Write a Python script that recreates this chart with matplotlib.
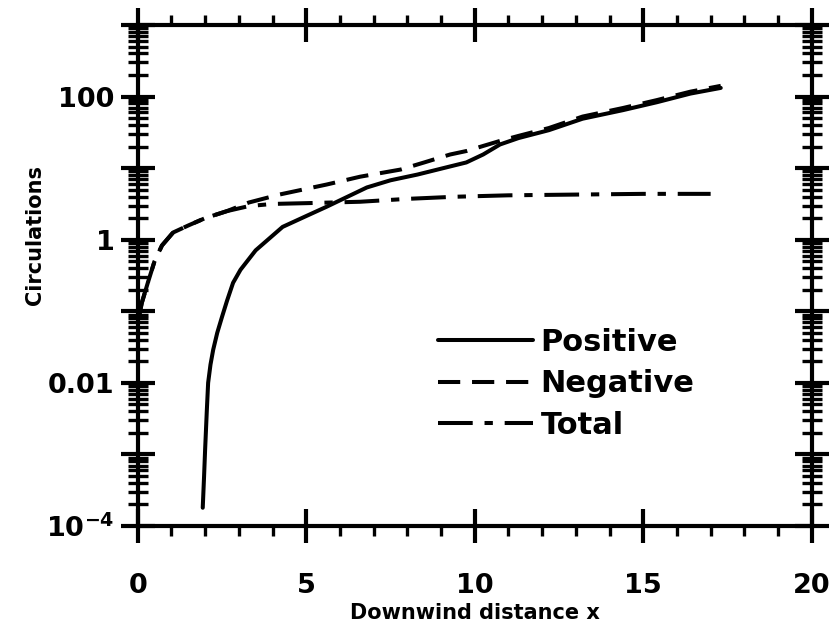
import numpy as np
import matplotlib
matplotlib.use('Agg')
import matplotlib.pyplot as plt
from matplotlib.ticker import FixedLocator, FixedFormatter, MultipleLocator, LogLocator, NullFormatter

plt.rcParams['font.family'] = 'DejaVu Sans'
plt.rcParams['font.weight'] = 'bold'
plt.rcParams['mathtext.default'] = 'bf'
plt.rcParams['lines.scale_dashes'] = False

# values
pos_x = [1.93, 1.97, 2.0, 2.05, 2.09, 2.16, 2.24, 2.36, 2.5, 2.65, 2.83, 3.05, 3.5,
         4.3, 5.0, 5.6, 6.8, 7.5, 8.3, 9.25, 9.75, 10.25, 10.75, 11.3, 12.2, 13.2,
         14.4, 15.4, 16.4, 17.3]
pos_y = [1.8e-4, 5e-4, 1.15e-3, 4e-3, 0.01, 0.018, 0.029, 0.05, 0.083, 0.14, 0.25,
         0.38, 0.71, 1.51, 2.14, 2.88, 5.37, 6.76, 8.13, 10.5, 12.0, 15.5, 21.4,
         26.3, 33.9, 49.0, 64.6, 83.2, 110.0, 132.0]

neg_x = [0.05, 0.12, 0.3, 0.5, 0.72, 1.05, 1.5, 2.0, 2.65, 3.3, 4.2, 5.6, 6.6, 7.8,
         8.5, 9.27, 9.77, 10.25, 10.75, 11.3, 12.2, 13.2, 14.4, 15.4, 16.4, 17.3]
neg_y = [0.089, 0.13, 0.25, 0.5, 0.83, 1.26, 1.58, 2.0, 2.51, 3.31, 4.27, 5.89, 7.59,
         9.55, 12.0, 15.5, 17.4, 20.4, 24.0, 28.2, 36.3, 52.5, 69.2, 89.1, 117.0, 141.0]

tot_x = [0.05, 0.12, 0.3, 0.5, 0.72, 1.05, 1.5, 2.0, 2.65, 3.3, 4.0, 5.0, 6.6, 8.0,
         9.4, 11.0, 13.0, 15.0, 17.0]
tot_y = [0.089, 0.13, 0.25, 0.5, 0.83, 1.26, 1.58, 2.0, 2.51, 2.95, 3.16, 3.24, 3.39,
         3.72, 3.98, 4.17, 4.27, 4.37, 4.37]

y_major = [1e-4, 1e-3, 1e-2, 1e-1, 1, 10, 100, 1000]
y_labels = ['10$^{-4}$', '', '0.01', '', '1', '', '100', '']
x_major = [0, 5, 10, 15, 20]

fig = plt.figure(figsize=(8.36, 6.24), dpi=100)
ax = fig.add_axes([0.1647, 0.157, 0.8063, 0.803])

lw = 2.9
ax.plot(pos_x, pos_y, color='black', lw=lw, solid_capstyle='round', label='Positive')
ax.plot(neg_x, neg_y, color='black', lw=lw, linestyle=(0, (16, 8.5)), label='Negative')
ax.plot(tot_x, tot_y, color='black', lw=lw, linestyle=(0, (25, 8.5, 6, 8.5)), label='Total')

ax.set_yscale('log')
ax.set_xlim(0, 20)
ax.set_ylim(1e-4, 1e3)

ax.yaxis.set_major_locator(FixedLocator(y_major))
ax.yaxis.set_major_formatter(FixedFormatter(y_labels))
ax.yaxis.set_minor_locator(LogLocator(base=10, subs=np.arange(2, 10), numticks=20))
ax.yaxis.set_minor_formatter(NullFormatter())
ax.xaxis.set_major_locator(FixedLocator(x_major))
ax.xaxis.set_minor_locator(MultipleLocator(1))

for s in ax.spines.values():
    s.set_linewidth(3)

ax.tick_params(axis='y', which='major', direction='inout', length=25, width=3,
               left=True, right=True, labelsize=19.5, pad=4)
ax.tick_params(axis='y', which='minor', direction='inout', length=14, width=2.4,
               left=True, right=True)
ax.tick_params(axis='x', which='major', direction='inout', length=25, width=3,
               top=True, bottom=True, labelsize=19.5, pad=21.5)
ax.tick_params(axis='x', which='minor', direction='out', length=7, width=2.4,
               top=True, bottom=True)

ax.set_xlabel('Downwind distance x', fontsize=15, fontweight='bold', labelpad=3)
ax.set_ylabel('Circulations', fontsize=15, fontweight='bold')
ax.yaxis.set_label_coords(-0.1375, 0.58)

leg = ax.legend(loc='upper left', bbox_to_anchor=(0.446, 0.395), frameon=False,
                fontsize=22, handlelength=3.1, handletextpad=0.25,
                labelspacing=0.4, borderpad=0, borderaxespad=0)

fig.savefig('out.png', dpi=100)
